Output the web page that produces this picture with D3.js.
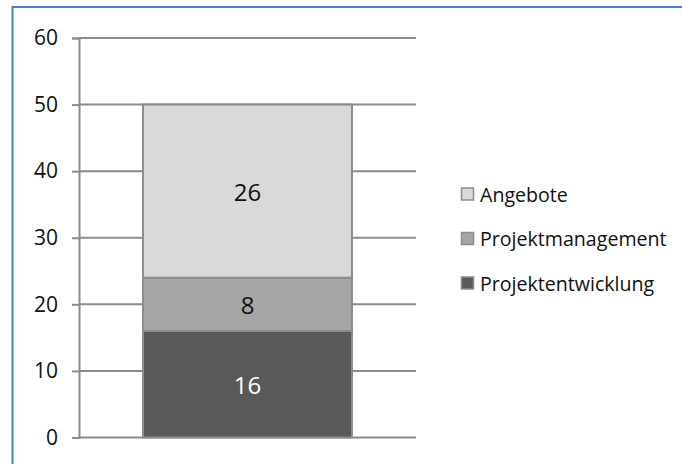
<!DOCTYPE html>
<html>
<head>
<meta charset="utf-8">
<script src="https://cdn.jsdelivr.net/npm/d3@7"></script>
<style>
  html, body { margin: 0; padding: 0; background: #fff; }
  svg { display: block; }
  text { font-family: "Open Sans", sans-serif; }
</style>
</head>
<body>
<svg id="chart" width="682" height="464"></svg>
<script>
// Stacked column: one category, three stacked segments (bottom to top)
const categories = ["Gesamt"];
const seriesNames = ["Projektentwicklung", "Projektmanagement", "Angebote"];
const seriesValues = [16, 8, 26];
const seriesColors = ["#595959", "#a6a6a6", "#d9d9d9"];
const labelColors = ["#ffffff", "#111111", "#111111"];
const yTicks = [0, 10, 20, 30, 40, 50, 60];

const svg = d3.select("#chart");

// Outer frame (top and left edges visible)
svg.append("rect")
  .attr("x", 12.5).attr("y", 7)
  .attr("width", 800).attr("height", 600)
  .attr("fill", "none")
  .attr("stroke", "#4f81bd")
  .attr("stroke-width", 2);

const plot = { left: 79, right: 416, top: 38, bottom: 437.5 };

const y = d3.scaleLinear().domain([0, 60]).range([plot.bottom, plot.top]);
const x = d3.scaleBand().domain(categories).range([plot.left, plot.right]).paddingInner(0.38).paddingOuter(0.19);

// Horizontal gridlines
svg.append("g").selectAll("line")
  .data(yTicks)
  .join("line")
  .attr("x1", plot.left).attr("x2", plot.right)
  .attr("y1", d => y(d)).attr("y2", d => y(d))
  .attr("stroke", "#8c8c8c")
  .attr("stroke-width", 2);

// Y axis with tick marks and labels
const yAxis = d3.axisLeft(y).tickValues(yTicks).tickSize(7).tickPadding(14);
const gy = svg.append("g")
  .attr("transform", `translate(${plot.left},0)`)
  .call(yAxis);
gy.select(".domain").attr("stroke", "#8c8c8c").attr("stroke-width", 2);
gy.selectAll(".tick line").attr("stroke", "#8c8c8c").attr("stroke-width", 2);
gy.selectAll(".tick text")
  .attr("font-family", "'Open Sans', sans-serif")
  .attr("font-size", 21)
  .attr("fill", "#111111");

// Stack the segments
const row = {};
seriesNames.forEach((s, i) => row[s] = seriesValues[i]);
const stacked = d3.stack().keys(seriesNames)([row]);

const bars = svg.append("g");
stacked.forEach((layer, i) => {
  const d = layer[0];
  bars.append("rect")
    .attr("x", x(categories[0]))
    .attr("width", x.bandwidth())
    .attr("y", y(d[1]))
    .attr("height", y(d[0]) - y(d[1]))
    .attr("fill", seriesColors[i])
    .attr("stroke", "#8c8c8c")
    .attr("stroke-width", 2);
});

// Value labels centred in each segment
stacked.forEach((layer, i) => {
  const d = layer[0];
  bars.append("text")
    .attr("x", x(categories[0]) + x.bandwidth() / 2)
    .attr("y", y((d[0] + d[1]) / 2))
    .attr("text-anchor", "middle")
    .attr("dominant-baseline", "central")
    .attr("font-size", 24)
    .attr("fill", labelColors[i])
    .text(seriesValues[i]);
});

// Legend (top entry = top segment)
const legendItems = seriesNames.map((s, i) => ({ name: s, color: seriesColors[i] })).reverse();
const legend = svg.append("g").attr("transform", "translate(461,194)");
legendItems.forEach((item, i) => {
  const g = legend.append("g").attr("transform", `translate(0,${i * 44.5})`);
  g.append("rect")
    .attr("x", 0.5).attr("y", -6)
    .attr("width", 12).attr("height", 12)
    .attr("fill", item.color)
    .attr("stroke", "#8c8c8c")
    .attr("stroke-width", 1.5);
  g.append("text")
    .attr("x", 19)
    .attr("y", 0)
    .attr("dominant-baseline", "central")
    .attr("font-size", 19.6)
    .attr("fill", "#111111")
    .text(item.name);
});
</script>
</body>
</html>
